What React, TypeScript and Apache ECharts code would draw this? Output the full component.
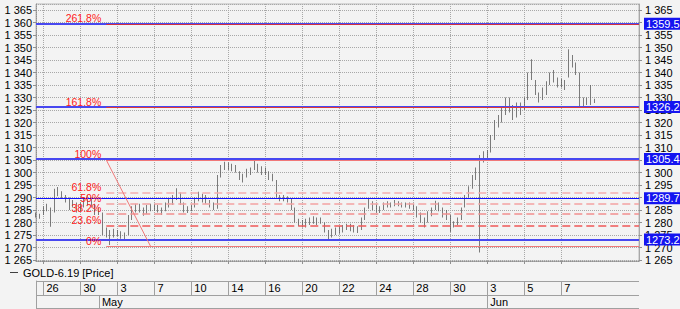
import React, { useEffect, useRef } from 'react';
import * as echarts from 'echarts';

// Trading days shown on the time axis (first one only partially visible)
const tradingDays = [
  'Apr 25', 'Apr 26', 'Apr 29', 'Apr 30', 'May 2', 'May 3', 'May 6', 'May 7', 'May 8', 'May 10',
  'May 13', 'May 14', 'May 15', 'May 16', 'May 17', 'May 20', 'May 21', 'May 22', 'May 23', 'May 24',
  'May 27', 'May 28', 'May 29', 'May 30', 'May 31', 'Jun 3', 'Jun 4', 'Jun 5', 'Jun 6', 'Jun 7',
  'Jun 10', 'Jun 11', 'Jun 13', 'Jun 14',
];
const BARS_FIRST_DAY = 2;
const BARS_PER_DAY = 5;
const CATEGORY_COUNT = 164;

// Bar lows / highs (GOLD-6.19)
const lows = [
  1282, 1281.5,
  1283, 1284.5, 1278.3, 1284, 1290.5,
  1289.8, 1288, 1285, 1286, 1284,
  1284.5, 1286, 1287, 1286, 1283,
  1283, 1275, 1274, 1271, 1274,
  1274.5, 1273.5, 1273, 1275, 1281,
  1284, 1284, 1282.7, 1283.5, 1284.5,
  1284.6, 1284, 1283, 1284.5, 1286,
  1287, 1289, 1287, 1284, 1283.8,
  1284.5, 1286, 1288.5, 1288, 1287.5,
  1286, 1285, 1285.5, 1298, 1301,
  1301, 1300.5, 1300, 1297, 1296,
  1298, 1299, 1301, 1300, 1299,
  1299, 1297, 1296.5, 1290, 1288.5,
  1288.5, 1288, 1285, 1280, 1278.5,
  1278, 1278, 1279, 1279.5, 1279,
  1279.5, 1276, 1273, 1274, 1275,
  1275.5, 1276, 1277, 1276.5, 1276,
  1275.8, 1277, 1281, 1285.5, 1285,
  1284, 1283.8, 1285, 1286, 1286,
  1286.5, 1286.5, 1286, 1286, 1285.5,
  1285, 1282, 1280, 1278, 1280,
  1282.5, 1285, 1284.5, 1282, 1281,
  1276.2, 1278, 1279, 1281, 1286,
  1290, 1293.5, 1297, 1268, 1304,
  1305.5, 1308, 1313, 1318, 1320,
  1323, 1324, 1321, 1322, 1323,
  1325, 1329, 1337, 1331, 1328,
  1329, 1331, 1335, 1336, 1334,
  1334, 1333, 1338, 1342, 1339,
  1326, 1326, 1327, 1327, 1327.8,
];
const highs = [
  1284, 1283.5,
  1286.5, 1287.5, 1286, 1293.5, 1294.2,
  1292.5, 1291, 1290, 1289, 1288,
  1288, 1290, 1291, 1290, 1287.5,
  1286, 1284, 1278, 1277, 1277.5,
  1277, 1276.5, 1276, 1283, 1286.5,
  1287.5, 1287.5, 1286, 1287, 1287.5,
  1287.5, 1287, 1286, 1288, 1289.5,
  1291, 1293.7, 1292, 1288, 1286.5,
  1287, 1290, 1292.3, 1291.5, 1291,
  1289, 1288, 1299, 1303, 1304.3,
  1304, 1303.5, 1303, 1300.5, 1299.5,
  1301.5, 1302, 1304.7, 1303.5, 1302.5,
  1302, 1300.5, 1299.5, 1297, 1291,
  1291, 1290.5, 1289.5, 1286, 1281.5,
  1281, 1281.5, 1282, 1282.5, 1282,
  1282, 1280, 1277, 1277.5, 1278,
  1278.5, 1279, 1279.5, 1279.5, 1279,
  1278.5, 1282, 1286, 1289.4, 1288.5,
  1287.5, 1286.5, 1288, 1288.5, 1288,
  1289, 1288.5, 1288, 1288, 1288,
  1287.5, 1286.5, 1284, 1282, 1284.5,
  1286, 1288.7, 1288, 1286, 1285,
  1283, 1280.5, 1282, 1286, 1291,
  1294.5, 1299, 1302, 1307, 1308.5,
  1309, 1315, 1321, 1323, 1326,
  1330, 1330, 1327, 1328, 1328,
  1330, 1340, 1345.3, 1337, 1332,
  1334, 1336.5, 1340, 1341, 1338,
  1337.5, 1337, 1349.3, 1347, 1344,
  1340, 1330, 1330, 1335, 1329.5,
];
const lastPrice = 1329.2;

// Horizontal price levels (blue)
const blueLevels = [1359.5, 1326.2, 1305.4, 1289.7, 1273.2];
const thinBlueLevel = 1289.7;

// Fibonacci levels
const fibLabels = ['0%', '23.6%', '38.2%', '50%', '61.8%', '100%', '161.8%', '261.8%'];
const fibValues = [1270.4, 1278.6, 1283.6, 1287.6, 1291.7, 1305.0, 1326.0, 1359.4];
const fibDashed = [false, true, true, true, true, false, false, false];
const fibColors = ['#f07878', '#f05858', '#f29090', '#f4a2a2', '#f5aeae', '#f07878', '#e03838', '#d03040'];
const fibStartIdx = 19;
const trendEndIdx = 31;

const FONT = 'Liberation Sans, Arial, sans-serif';

function fmtThousands(s: string) {
  const [ip, dp] = s.split('.');
  const head = ip.slice(0, ip.length - 3);
  const out = (head ? head + ' ' : '') + ip.slice(-3);
  return dp !== undefined ? out + '.' + dp : out;
}

export default function App() {
  const ref = useRef<HTMLDivElement>(null);

  useEffect(() => {
    if (!ref.current) return;
    const chart = echarts.init(ref.current, null, { renderer: 'svg' });

    // build categories (one per bar slot)
    const cats: string[] = [];
    const dayOf: number[] = [];
    tradingDays.forEach((d, k) => {
      const n = k === 0 ? BARS_FIRST_DAY : BARS_PER_DAY;
      for (let j = 0; j < n; j++) {
        cats.push(d + ' #' + j);
        dayOf.push(k);
      }
    });
    cats.length = CATEGORY_COUNT;
    dayOf.length = CATEGORY_COUNT;

    const tickSet = new Set<number>();
    const monthSet = new Set<number>();
    for (let i = 1; i < CATEGORY_COUNT; i++) {
      if (dayOf[i] !== dayOf[i - 1]) {
        const k = dayOf[i] - 1;
        if (k % 2 === 0 && i < lows.length) tickSet.add(i);
        const m0 = tradingDays[dayOf[i - 1]].split(' ')[0];
        const m1 = tradingDays[dayOf[i]].split(' ')[0];
        if (m0 !== m1) monthSet.add(i);
      }
    }
    const isTick = (i: number) => tickSet.has(i);
    const isMonth = (i: number) => monthSet.has(i);

    const candleData = lows.map((l, i) => [l, highs[i], l, highs[i]]);

    const yMin = 1264.6;
    const yMax = 1367.4;
    const priceAxisCommon = {
      type: 'value',
      gridIndex: 0,
      min: yMin,
      max: yMax,
      splitNumber: 20,
      axisTick: { show: true, length: 3, lineStyle: { color: '#909090' } },
    };
    const labelCommon = {
      fontSize: 11,
      color: '#000',
      fontFamily: FONT,
      showMinLabel: false,
      showMaxLabel: false,
      formatter: (v: number) => fmtThousands(String(Math.round(v))),
    };

    const fibLines: any[] = fibValues.map((v, i) => [
      {
        coord: [fibStartIdx, v],
        name: fibLabels[i],
        lineStyle: {
          color: fibColors[i],
          width: fibDashed[i] ? 1.6 : 1.2,
          type: fibDashed[i] ? [8, 4] : 'solid',
        },
        label: {
          show: true,
          position: 'start',
          formatter: (p: any) => p.name + '\n ',
          distance: 5,
          color: '#ff2020',
          fontSize: 10.5,
          lineHeight: 12,
          fontFamily: FONT,
        },
      },
      { coord: [CATEGORY_COUNT - 1, v] },
    ]);
    fibLines.push([
      {
        coord: [fibStartIdx, fibValues[5]],
        lineStyle: { color: '#f07878', width: 1, type: 'solid' },
        label: { show: false },
      },
      { coord: [trendEndIdx, fibValues[0]] },
    ]);

    const option: any = {
      animation: false,
      backgroundColor: '#f3f3f3',
      textStyle: { fontFamily: FONT },
      legend: {
        left: 5,
        top: 262,
        icon: 'rect',
        itemWidth: 8,
        itemHeight: 1,
        selectedMode: false,
        textStyle: { fontSize: 11, color: '#000', fontFamily: FONT },
        data: [{ name: 'GOLD-6.19 [Price]', itemStyle: { color: '#404040', borderWidth: 0 } }],
      },
      grid: [
        { left: 36, top: 4, width: 603, height: 257, show: true, borderColor: '#b8b8b8', borderWidth: 1 },
        { left: 36, top: 281, width: 603, height: 14 },
        { left: 36, top: 295, width: 603, height: 13 },
      ],
      xAxis: [
        {
          gridIndex: 0,
          type: 'category',
          data: cats,
          boundaryGap: false,
          axisLine: { show: true, lineStyle: { color: '#909090', type: 'dotted' } },
          axisTick: { show: true, interval: isTick, length: 3, lineStyle: { color: '#909090' } },
          axisLabel: { show: false },
          splitLine: { show: true, interval: isTick, lineStyle: { color: '#a8a8a8', type: 'dotted' } },
        },
        {
          gridIndex: 1,
          type: 'category',
          data: cats,
          boundaryGap: false,
          axisLine: { show: false },
          axisTick: { show: false },
          axisLabel: {
            show: true,
            interval: isTick,
            formatter: (_v: string, i: number) => tradingDays[dayOf[i]].split(' ')[1],
            align: 'left',
            margin: -13,
            padding: [0, 0, 0, 3],
            fontSize: 11,
            color: '#000',
            fontFamily: FONT,
          },
          splitLine: { show: true, interval: isTick, lineStyle: { color: '#a0a0a0', type: 'solid' } },
        },
        {
          gridIndex: 2,
          type: 'category',
          data: cats,
          boundaryGap: false,
          axisLine: { show: false },
          axisTick: { show: false },
          axisLabel: {
            show: true,
            interval: isMonth,
            formatter: (_v: string, i: number) => tradingDays[dayOf[i]].split(' ')[0],
            align: 'left',
            margin: -12,
            padding: [0, 0, 0, 3],
            fontSize: 11,
            color: '#000',
            fontFamily: FONT,
          },
          splitLine: { show: true, interval: isMonth, lineStyle: { color: '#a0a0a0', type: 'solid' } },
        },
      ],
      yAxis: [
        {
          ...priceAxisCommon,
          position: 'left',
          axisLine: { show: true, lineStyle: { color: '#909090', type: 'dotted' } },
          axisLabel: { ...labelCommon, margin: 4 },
          splitLine: { show: true, lineStyle: { color: '#a8a8a8', type: 'dotted' } },
        },
        {
          ...priceAxisCommon,
          position: 'right',
          axisLine: { show: true, lineStyle: { color: '#a8a8a8', type: 'solid' } },
          axisLabel: { ...labelCommon, margin: 6 },
          splitLine: { show: false },
        },
        {
          gridIndex: 1, type: 'value', min: 0, max: 1, interval: 1,
          axisLine: { show: true, lineStyle: { color: '#a0a0a0' } },
          axisTick: { show: false }, axisLabel: { show: false },
          splitLine: { show: true, lineStyle: { color: '#a0a0a0', type: 'solid' } },
        },
        {
          gridIndex: 2, type: 'value', min: 0, max: 1, interval: 1,
          axisLine: { show: true, lineStyle: { color: '#a0a0a0' } },
          axisTick: { show: false }, axisLabel: { show: false },
          splitLine: { show: true, lineStyle: { color: '#a0a0a0', type: 'solid' } },
        },
      ],
      series: [
        {
          name: 'last',
          type: 'line',
          xAxisIndex: 0,
          yAxisIndex: 0,
          data: [],
          z: 1,
          markLine: {
            silent: true,
            symbol: 'none',
            data: [{ yAxis: lastPrice }],
            lineStyle: { opacity: 0 },
            label: {
              show: true,
              position: 'end',
              distance: 4,
              formatter: () => fmtThousands(lastPrice.toFixed(1)),
              color: '#303030',
              backgroundColor: '#f3f3f3',
              borderColor: '#909090',
              borderWidth: 1,
              padding: [1, 2, 0, 2],
              fontSize: 11,
              fontFamily: FONT,
            },
          },
        },
        {
          name: 'GOLD-6.19 [Price]',
          type: 'candlestick',
          xAxisIndex: 0,
          yAxisIndex: 0,
          data: candleData,
          barWidth: 1,
          z: 2,
          itemStyle: {
            color: '#5c5c5c',
            color0: '#5c5c5c',
            borderColor: '#5c5c5c',
            borderColor0: '#5c5c5c',
            borderWidth: 0.8,
          },
        },
        {
          name: 'levels',
          type: 'line',
          xAxisIndex: 0,
          yAxisIndex: 0,
          data: [],
          z: 3,
          markLine: {
            silent: true,
            symbol: 'none',
            data: blueLevels.map((v) => ({
              yAxis: v,
              lineStyle: {
                color: v === thinBlueLevel ? '#1010ff' : '#4848f0',
                width: v === thinBlueLevel ? 1.2 : 2,
                type: 'solid',
              },
            })),
            label: {
              show: true,
              position: 'end',
              distance: 5,
              formatter: (p: any) => Number(p.value).toFixed(1),
              color: '#fff',
              backgroundColor: '#1414f0',
              padding: [1, 2, 0, 2],
              fontSize: 11,
              fontFamily: FONT,
            },
          },
        },
        {
          name: 'fib',
          type: 'line',
          xAxisIndex: 0,
          yAxisIndex: 0,
          data: [],
          z: 4,
          markLine: {
            silent: true,
            symbol: 'none',
            data: fibLines,
          },
        },
      ],
    };

    chart.setOption(option);
    return () => chart.dispose();
  }, []);

  return (
    <div
      ref={ref}
      style={{ position: 'fixed', left: 0, top: 0, width: 680, height: 309, background: '#f3f3f3' }}
    />
  );
}
